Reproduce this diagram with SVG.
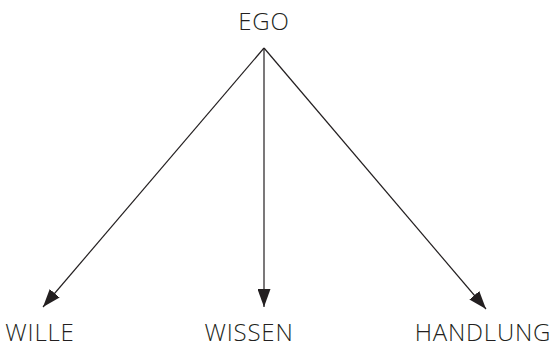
<svg xmlns="http://www.w3.org/2000/svg" width="558" height="347" viewBox="0 0 558 347">
<style>
text{font-family:"Open Sans","Liberation Sans",sans-serif;font-size:24px;fill:#231f20;text-anchor:middle;font-weight:300;letter-spacing:0.8px}
.c line{stroke:#231f20;stroke-width:1.2;fill:none}
</style>
<defs>
<marker id="a" viewBox="0 0 18 13" refX="18" refY="6.5" markerWidth="18" markerHeight="13" markerUnits="userSpaceOnUse" orient="auto">
<path d="M0,0 L18,6.5 L0,13 Z" fill="#231f20"/>
</marker>
</defs>
<rect width="558" height="347" fill="#fff"/>
<g id="ego"><text x="264" y="30">EGO</text></g>
<g id="wille"><text x="40" y="341">WILLE</text></g>
<g id="wissen"><text x="249" y="341">WISSEN</text></g>
<g id="handlung"><text x="483" y="341">HANDLUNG</text></g>
<g class="c">
<line x1="264" y1="48" x2="43" y2="307" marker-end="url(#a)"/>
<line x1="264" y1="48" x2="264" y2="307" marker-end="url(#a)"/>
<line x1="264" y1="48" x2="486" y2="309" marker-end="url(#a)"/>
</g>
</svg>
